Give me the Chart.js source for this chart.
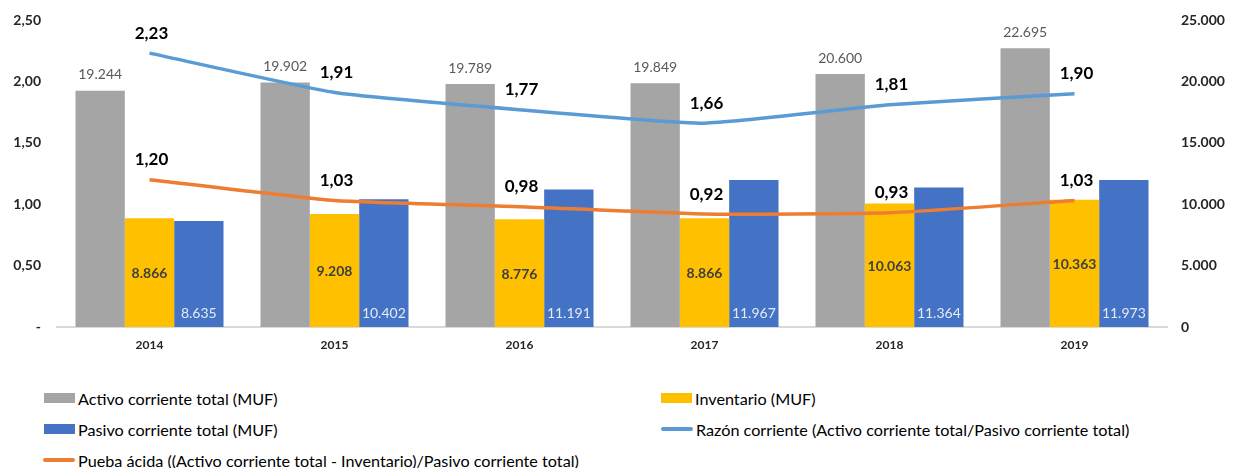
<!DOCTYPE html>
<html>
<head>
<meta charset="utf-8">
<script src="https://cdn.jsdelivr.net/npm/chart.js@4.4.1/dist/chart.umd.min.js"></script>
<style>
  body { margin: 0; background: #fff; font-family: Lato, sans-serif; }
  #wrap { position: relative; width: 1240px; height: 468px; }
  #legend { position: absolute; left: 0; top: 0; width: 1240px; }
  .item { position: absolute; display: flex; align-items: center; height: 20px; font-size: 16.2px; color: #000; white-space: nowrap; }
  .box { width: 31px; height: 10px; margin-right: 3px; }
  .ln { width: 32px; height: 4px; border-radius: 2px; margin-right: 3px; }
</style>
</head>
<body>
<div id="wrap">
  <canvas id="ratios" width="1240" height="360"></canvas>
  <div id="legend"></div>
</div>
<script>
const years = ["2014", "2015", "2016", "2017", "2018", "2019"];
const activo = [19244, 19902, 19789, 19849, 20600, 22695];
const inventario = [8866, 9208, 8776, 8866, 10063, 10363];
const pasivo = [8635, 10402, 11191, 11967, 11364, 11973];
const razon = [2.23, 1.91, 1.77, 1.66, 1.81, 1.90];
const prueba = [1.20, 1.03, 0.98, 0.92, 0.93, 1.03];
const leftTicks = [0, 0.5, 1, 1.5, 2, 2.5];
const rightTicks = [0, 5000, 10000, 15000, 20000, 25000];

const miles = v => String(v).replace(/\B(?=(\d{3})+(?!\d))/g, ".");
const dec = v => v.toFixed(2).replace(".", ",");

// labels drawn on top of the bars / points
const valueLabels = {
  id: "valueLabels",
  afterDatasetsDraw(chart) {
    const ctx = chart.ctx;
    ctx.save();
    ctx.textAlign = "center";
    ctx.textBaseline = "middle";
    chart.data.datasets.forEach((ds, i) => {
      const meta = chart.getDatasetMeta(i);
      meta.data.forEach((el, j) => {
        const v = ds.data[j];
        if (ds.kind === "top") {
          ctx.font = "14px Lato";
          ctx.fillStyle = "#595959";
          ctx.fillText(miles(v), el.x, el.y - 16);
        } else if (ds.kind === "mid") {
          ctx.font = "bold 14px Lato";
          ctx.fillStyle = "#404040";
          ctx.fillText(miles(v), el.x, (el.y + el.base) / 2 + 1);
        } else if (ds.kind === "base") {
          ctx.font = "14px Lato";
          ctx.fillStyle = "#E4EAF6";
          ctx.fillText(miles(v), el.x, el.base - 14);
        } else {
          ctx.font = "bold 17px Lato";
          ctx.fillStyle = "#000";
          ctx.fillText(dec(v), el.x + 2, el.y - 20);
        }
      });
    });
    ctx.restore();
  }
};

// fixed axis sizes so the plot area sits where the original one does
const fitY = w => s => { s.width = w; s.paddingTop = 0; s.paddingBottom = 0; };

const chart = new Chart(document.getElementById("ratios"), {
  type: "bar",
  data: {
    labels: years,
    datasets: [
      { label: "Activo corriente total (MUF)", data: activo, backgroundColor: "#A5A5A5", yAxisID: "y1", order: 2, kind: "top" },
      { label: "Inventario (MUF)", data: inventario, backgroundColor: "#FFC000", yAxisID: "y1", order: 2, kind: "mid" },
      { label: "Pasivo corriente total (MUF)", data: pasivo, backgroundColor: "#4472C4", yAxisID: "y1", order: 2, kind: "base" },
      { type: "line", label: "Razón corriente (Activo corriente total/Pasivo corriente total)", data: razon, borderColor: "#5B9BD5", backgroundColor: "#5B9BD5", borderWidth: 3.5, pointRadius: 0, tension: 0.15, yAxisID: "y", order: 1, kind: "line" },
      { type: "line", label: "Pueba ácida ((Activo corriente total - Inventario)/Pasivo corriente total)", data: prueba, borderColor: "#ED7D31", backgroundColor: "#ED7D31", borderWidth: 3.5, pointRadius: 0, tension: 0.15, yAxisID: "y", order: 1, kind: "line" }
    ]
  },
  options: {
    responsive: false,
    animation: false,
    layout: { padding: { top: 20, left: 0, right: 0, bottom: 0 } },
    datasets: { bar: { categoryPercentage: 0.8, barPercentage: 1.0 } },
    plugins: { legend: { display: false }, tooltip: { enabled: false } },
    scales: {
      x: {
        grid: { display: false, drawTicks: false },
        border: { display: true, color: "#D9D9D9", width: 2 },
        ticks: { padding: 11, color: "#262626", font: { family: "Lato", size: 12, weight: "bold" } },
        afterFit: s => { s.height = 33; }
      },
      y: {
        position: "left",
        min: 0, max: 2.5,
        grid: { display: false, drawTicks: false },
        border: { display: false },
        afterBuildTicks: s => { s.ticks = leftTicks.map(v => ({ value: v })); },
        ticks: { padding: 16, color: "#262626", font: { family: "Lato", size: 14, weight: "bold" },
          callback: v => v === 0 ? "-" : dec(v) },
        afterFit: fitY(57)
      },
      y1: {
        position: "right",
        min: 0, max: 25000,
        grid: { display: false, drawTicks: false },
        border: { display: false },
        afterBuildTicks: s => { s.ticks = rightTicks.map(v => ({ value: v })); },
        ticks: { padding: 14, color: "#262626", font: { family: "Lato", size: 14, weight: "bold" },
          callback: v => miles(v) },
        afterFit: fitY(73)
      }
    }
  },
  plugins: [valueLabels]
});

// legend in two columns, built from the datasets
const pos = [[44, 388], [661, 388], [44, 419], [661, 419], [43, 450]];
const legend = document.getElementById("legend");
chart.data.datasets.forEach((ds, i) => {
  const item = document.createElement("div");
  item.className = "item";
  item.style.left = pos[i][0] + "px";
  item.style.top = pos[i][1] + "px";
  const mark = document.createElement("span");
  mark.className = ds.type === "line" ? "ln" : "box";
  mark.style.background = ds.backgroundColor;
  item.appendChild(mark);
  item.appendChild(document.createTextNode(ds.label));
  legend.appendChild(item);
});
</script>
</body>
</html>
